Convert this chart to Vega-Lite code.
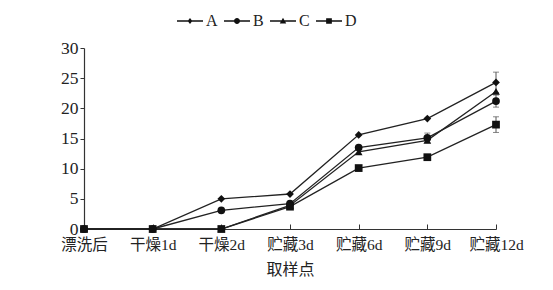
{
  "$schema": "https://vega.github.io/schema/vega-lite/v6.json",
  "width": 412,
  "height": 181,
  "autosize": {"type": "none"},
  "padding": {"left": 84, "top": 48, "right": 57, "bottom": 61},
  "background": "white",
  "config": {
    "view": {"stroke": null},
    "font": "Liberation Serif, Noto Sans CJK SC",
    "axis": {"labelFont": "Liberation Serif, Noto Sans CJK SC", "titleFont": "Liberation Serif, Noto Sans CJK SC", "labelColor": "#222", "titleColor": "#222", "domainColor": "#333", "tickColor": "#333", "titleFontWeight": "normal", "grid": false},
    "axisY": {"title": "酪胺含量/( mg/kg )", "values": [0, 5, 10, 15, 20, 25, 30], "labelFontSize": 17.5, "titleFontSize": 16, "tickSize": 4, "labelPadding": 2, "titlePadding": 12, "domainWidth": 1.2, "labelOverlap": false},
    "legend": {"labelFont": "Liberation Serif", "labelColor": "#222"}
  },
  "resolve": {"scale": {"shape": "independent"}},
  "data": {"values": [
    {"t": "漂洗后", "s": "A", "v": 0}, {"t": "干燥1d", "s": "A", "v": 0}, {"t": "干燥2d", "s": "A", "v": 5.0}, {"t": "贮藏3d", "s": "A", "v": 5.8}, {"t": "贮藏6d", "s": "A", "v": 15.6}, {"t": "贮藏9d", "s": "A", "v": 18.3}, {"t": "贮藏12d", "s": "A", "v": 24.3, "lo": 22.6, "hi": 26.0},
    {"t": "漂洗后", "s": "B", "v": 0}, {"t": "干燥1d", "s": "B", "v": 0}, {"t": "干燥2d", "s": "B", "v": 3.1}, {"t": "贮藏3d", "s": "B", "v": 4.2}, {"t": "贮藏6d", "s": "B", "v": 13.5}, {"t": "贮藏9d", "s": "B", "v": 15.1, "lo": 14.3, "hi": 15.9}, {"t": "贮藏12d", "s": "B", "v": 21.2, "lo": 20.2, "hi": 22.2},
    {"t": "漂洗后", "s": "C", "v": 0}, {"t": "干燥1d", "s": "C", "v": 0}, {"t": "干燥2d", "s": "C", "v": 0}, {"t": "贮藏3d", "s": "C", "v": 3.9, "lo": 3.3, "hi": 4.5}, {"t": "贮藏6d", "s": "C", "v": 12.8}, {"t": "贮藏9d", "s": "C", "v": 14.7}, {"t": "贮藏12d", "s": "C", "v": 22.8},
    {"t": "漂洗后", "s": "D", "v": 0}, {"t": "干燥1d", "s": "D", "v": 0}, {"t": "干燥2d", "s": "D", "v": 0}, {"t": "贮藏3d", "s": "D", "v": 3.7}, {"t": "贮藏6d", "s": "D", "v": 10.1}, {"t": "贮藏9d", "s": "D", "v": 11.9}, {"t": "贮藏12d", "s": "D", "v": 17.3, "lo": 16.0, "hi": 18.6}
  ]},
  "encoding": {
    "x": {
      "field": "t", "type": "ordinal",
      "sort": ["漂洗后", "干燥1d", "干燥2d", "贮藏3d", "贮藏6d", "贮藏9d", "贮藏12d"],
      "scale": {"type": "point", "padding": 0},
      "axis": {"title": "取样点", "labelAngle": 0, "labelFontSize": 15.5, "titleFontSize": 16, "tickSize": -5, "labelPadding": 13, "titlePadding": 9, "domainWidth": 1.2}
    }
  },
  "layer": [
    {
      "mark": {"type": "rule", "color": "#555", "strokeWidth": 1},
      "encoding": {
        "y": {"field": "lo", "type": "quantitative", "scale": {"domain": [0, 30]}},
        "y2": {"field": "hi"}
      }
    },
    {
      "mark": {"type": "tick", "color": "#555", "orient": "horizontal", "size": 6, "thickness": 1},
      "encoding": {"y": {"field": "lo", "type": "quantitative"}}
    },
    {
      "mark": {"type": "tick", "color": "#555", "orient": "horizontal", "size": 6, "thickness": 1},
      "encoding": {"y": {"field": "hi", "type": "quantitative"}}
    },
    {
      "mark": {"type": "line", "color": "#222", "strokeWidth": 1.3},
      "encoding": {
        "y": {"field": "v", "type": "quantitative"},
        "detail": {"field": "s"}
      }
    },
    {
      "mark": {"type": "point", "filled": true, "color": "#111", "opacity": 1, "size": 60},
      "encoding": {
        "y": {"field": "v", "type": "quantitative"},
        "shape": {
          "field": "s", "type": "nominal",
          "scale": {"domain": ["A", "B", "C", "D"], "range": ["diamond", "circle", "triangle-up", "square"]},
          "legend": null
        }
      }
    },
    {
      "mark": {"type": "point", "filled": true, "color": "#111", "opacity": 0, "size": 60},
      "encoding": {
        "y": {"field": "v", "type": "quantitative"},
        "shape": {
          "field": "s", "type": "nominal",
          "scale": {"domain": ["A", "B", "C", "D"], "range": [
            "M-1,-0.05H1V0.05H-1ZM0,-0.24L0.18,0L0,0.24L-0.18,0Z",
            "M-1,-0.05H1V0.05H-1ZM0.23,0A0.23,0.23 0 1,1 -0.23,0A0.23,0.23 0 1,1 0.23,0Z",
            "M-1,-0.05H1V0.05H-1ZM0,-0.25L0.25,0.19L-0.25,0.19Z",
            "M-1,-0.05H1V0.05H-1ZM-0.22,-0.22H0.22V0.22H-0.22Z"]},
          "legend": {
            "title": null, "orient": "none", "direction": "horizontal",
            "legendX": 93, "legendY": -40,
            "labelFontSize": 16, "symbolSize": 676, "labelOffset": 3, "columnPadding": 6,
            "symbolOpacity": 1,
            "symbolFillColor": "#111", "symbolStrokeColor": "#222", "symbolStrokeWidth": 0
          }
        }
      }
    }
  ]
}
